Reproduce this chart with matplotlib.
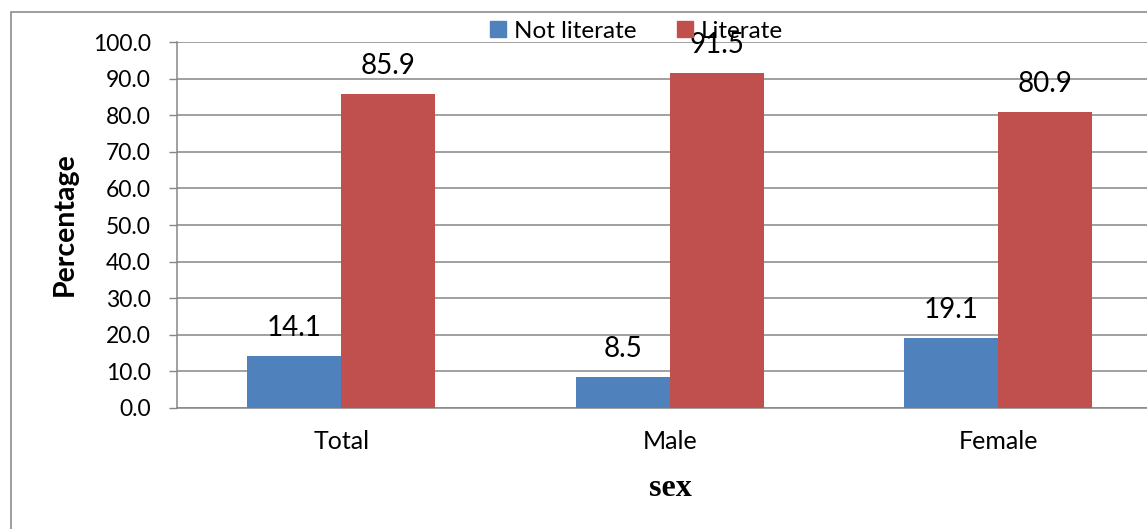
import matplotlib
matplotlib.use("Agg")
import matplotlib.pyplot as plt
from matplotlib.patches import Patch, Rectangle

# literacy by sex, percent
groups = ["Total", "Male", "Female"]
not_literate = [14.1, 8.5, 19.1]
literate = [85.9, 91.5, 80.9]
series_names = ["Not literate", "Literate"]
yticks = [0, 10, 20, 30, 40, 50, 60, 70, 80, 90, 100]

blue = "#4F81BD"
red = "#C0504D"
grey = "#868686"

plt.rcParams["font.family"] = ["Lato", "DejaVu Sans"]

W, H = 1147, 529
fig = plt.figure(figsize=(W / 100, H / 100), dpi=100)

# plot area runs off the right edge of the canvas
ax = fig.add_axes([177 / W, (H - 408) / H, (1162.5 - 177) / W, 366 / H])

x = list(range(len(groups)))
w = 1 / 3.5
ax.bar([i - w / 2 for i in x], not_literate, width=w, color=blue, zorder=3)
ax.bar([i + w / 2 for i in x], literate, width=w, color=red, zorder=3)

for i in x:
    for dx, v in ((-w / 2, not_literate[i]), (w / 2, literate[i])):
        ax.annotate(f"{v:.1f}", (i + dx, v), xytext=(0, 20), textcoords="offset pixels",
                    ha="center", va="baseline", fontsize=20, color="black", zorder=4)

ax.set_xlim(-0.5, 2.5)
ax.set_ylim(0, 100)
ax.set_yticks(yticks)
ax.set_yticklabels([f"{t:.1f}" for t in yticks])
ax.set_xticks(x)
ax.set_xticklabels(groups)

ax.yaxis.grid(True, color=grey, lw=1.1, zorder=0)
ax.set_axisbelow(True)
ax.tick_params(axis="y", length=5.8, width=1, color=grey, pad=13, labelsize=16.5)
ax.tick_params(axis="x", length=0, pad=16, labelsize=18)
for s in ("top", "right"):
    ax.spines[s].set_visible(False)
for s in ("left", "bottom"):
    ax.spines[s].set_color(grey)
    ax.spines[s].set_linewidth(1.1)

fig.text(65 / W, 1 - 224 / H, "Percentage", rotation=90, ha="center", va="center",
         fontsize=20.5, fontweight="bold")
fig.text(670 / W, 1 - 496 / H, "sex", ha="center", va="baseline",
         fontsize=23, fontweight="bold", family="Liberation Serif")

handles = [Patch(color=blue), Patch(color=red)]
fig.legend(handles, series_names, loc="center", bbox_to_anchor=(636.5 / W, 1 - 31 / H),
           ncol=2, frameon=False, fontsize=17.5, handlelength=0.65, handleheight=0.65,
           handletextpad=0.3, columnspacing=1.7, borderpad=0)

# outer chart border, cut off on the right and bottom
fig.patches.append(Rectangle((11 / W, -0.1), 2, 1 - 12 / H + 0.1, transform=fig.transFigure,
                             fill=False, edgecolor="#8C8C8C", lw=1.2))

fig.savefig("out.png", dpi=100)
